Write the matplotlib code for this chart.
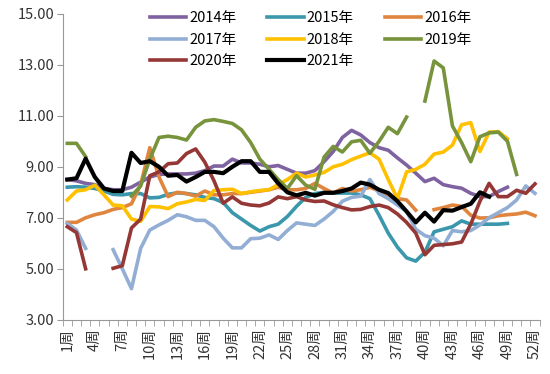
import numpy as np
import matplotlib.pyplot as plt

plt.rcParams['font.family'] = ['Noto Sans CJK SC', 'DejaVu Sans']

weeks = np.arange(1, 53)
N = None

y2014 = [8.5, 8.45, 8.35, 8.3, 8.15, 8.1, 8.1, 8.2, 8.4, 8.6, 8.7, 8.72, 8.72, 8.72, 8.75, 8.85,
         9.03, 9.03, 9.3, 9.15, 9.15, 9.1, 9.0, 9.05, 8.9, 8.75, 8.75, 8.85, 9.2, 9.6, 10.15, 10.43,
         10.25, 9.95, 9.75, 9.65, 9.35, 9.07, 8.75, 8.42, 8.55, 8.3, 8.22, 8.16, 7.96, 7.83, 7.83,
         8.03, 8.2, N, N, N]
y2015 = [8.2, 8.22, 8.2, 8.15, 8.05, 7.92, 7.9, 7.95, 7.95, 7.78, 7.8, 7.92, 7.98, 7.95, 7.9, 7.8,
         7.75, 7.6, 7.2, 6.95, 6.7, 6.48, 6.65, 6.75, 7.05, 7.45, 7.8, 7.95, 8.0, 7.97, 7.97, 7.97,
         7.9, 7.75, 7.1, 6.4, 5.85, 5.43, 5.3, 5.65, 6.45, 6.55, 6.65, 6.88, 6.75, 6.75, 6.75, 6.75,
         6.78, N, N, N]
y2016 = [6.82, 6.82, 7.0, 7.12, 7.2, 7.33, 7.4, 7.55, 8.3, 9.75, 8.6, 7.83, 8.0, 7.95, 7.85, 8.05,
         7.9, 7.9, 7.95, 7.95, 8.0, 8.05, 8.1, 8.2, 8.1, 8.1, 8.15, 8.35, 8.15, 7.97, 8.15, 8.05,
         8.1, 8.2, 8.05, 7.85, 7.75, 7.7, 7.3, N, 7.32, 7.4, 7.5, 7.45, 7.1, 6.99, 7.0, 7.08,
         7.12, 7.15, 7.22, 7.08]
y2017 = [6.78, 6.52, 5.8, N, N, 5.75, 5.0, 4.22, 5.8, 6.52, 6.72, 6.9, 7.12, 7.04, 6.9, 6.9,
         6.65, 6.2, 5.82, 5.82, 6.18, 6.2, 6.33, 6.15, 6.5, 6.8, 6.75, 6.7, 6.95, 7.25, 7.65, 7.8,
         7.85, 8.5, 7.95, 7.75, 7.5, 7.25, 6.55, 6.3, 6.2, 5.9, 6.5, 6.45, 6.5, 6.72, 7.0, 7.2,
         7.4, 7.7, 8.25, 7.96]
y2018 = [7.7, 8.05, 8.1, 8.28, 7.9, 7.5, 7.47, 6.95, 6.86, 7.44, 7.43, 7.36, 7.55, 7.62, 7.72, 7.68,
         8.07, 8.1, 8.12, 7.95, 8.02, 8.07, 8.1, 8.3, 8.5, 8.75, 8.6, 8.68, 8.78, 9.0, 9.1, 9.28,
         9.42, 9.55, 9.3, 8.5, 7.75, 8.8, 8.9, 9.1, 9.5, 9.58, 9.85, 10.65, 10.73, 9.6, 10.36, 10.38,
         10.1, N, N, N]
y2019 = [9.92, 9.92, 9.4, N, N, N, N, 7.85, 8.25, 9.3, 10.15, 10.2, 10.15, 10.05, 10.55, 10.8,
         10.85, 10.78, 10.7, 10.45, 9.95, 9.3, 8.9, 8.5, 8.15, 8.65, 8.28, 8.12, 9.38, 9.8, 9.58, 9.98,
         10.04, 9.53, 10.0, 10.55, 10.3, 10.95, N, 11.58, 13.15, 12.88, 10.6, 9.95, 9.2, 10.18, 10.33, 10.36,
         10.0, 8.7, N, N]
y2020 = [6.65, 6.42, 5.0, N, N, 5.02, 5.12, 6.6, 6.95, 8.65, 8.8, 9.12, 9.15, 9.52, 9.7, 9.18,
         8.45, 7.57, 7.82, 7.57, 7.5, 7.47, 7.58, 7.82, 7.75, 7.83, 7.7, 7.64, 7.66, 7.51, 7.4, 7.31,
         7.33, 7.44, 7.5, 7.4, 7.15, 6.82, 6.4, 5.55, 5.92, 5.95, 5.98, 6.05, 6.75, 7.65, 8.35, 7.83,
         7.83, 8.08, 7.96, 8.33]
y2021 = [8.5, 8.55, 9.32, 8.6, 8.15, 8.05, 8.05, 9.55, 9.15, 9.22, 9.0, 8.65, 8.68, 8.42, 8.6, 8.8,
         8.8, 8.75, 9.0, 9.22, 9.22, 8.8, 8.8, 8.35, 8.0, 7.88, 7.98, 7.87, 7.98, 7.98, 8.05, 8.15,
         8.38, 8.3, 8.1, 7.97, 7.65, 7.25, 6.82, 7.2, 6.85, 7.3, 7.28, 7.42, 7.55, 8.0, 7.83, N,
         N, N, N, N]

series = [
    ('2014年', y2014, '#7F63A1'),
    ('2015年', y2015, '#3A97AC'),
    ('2016年', y2016, '#E0853E'),
    ('2017年', y2017, '#93AED4'),
    ('2018年', y2018, '#FFC000'),
    ('2019年', y2019, '#77933C'),
    ('2020年', y2020, '#953735'),
    ('2021年', y2021, '#000000'),
]

fig = plt.figure(figsize=(5.5, 3.74), dpi=100)
ax = fig.add_axes([0.114, 0.145, 0.867, 0.818])

lines = []
for name, vals, col in series:
    v = np.array([np.nan if x is None else x for x in vals], dtype=float)
    lw = 3.0 if name == '2021年' else 2.6
    ln, = ax.plot(weeks, v, color=col, lw=lw, label=name, solid_joinstyle='round')
    lines.append(ln)

ax.set_xlim(0.5, 52.5)
ax.set_ylim(3, 15)
ax.set_yticks(np.arange(3, 16, 2))
ax.set_yticklabels(['%.2f' % t for t in np.arange(3, 16, 2)], fontsize=10.5, color='#333333')

lab_weeks = np.arange(1, 53, 3)
ax.set_xticks(lab_weeks)
ax.set_xticklabels(['%d周' % w for w in lab_weeks], rotation=90, fontsize=10.5, color='#333333')
ax.set_xticks(np.arange(0.5, 53, 1), minor=True)
ax.tick_params(axis='x', which='major', length=0, pad=6)
ax.tick_params(axis='x', which='minor', length=4, color='#999999', direction='out')
ax.tick_params(axis='y', length=4, color='#999999', direction='out', pad=2)

for s in ['top', 'right']:
    ax.spines[s].set_visible(False)
ax.spines['left'].set_color('#999999')
ax.spines['bottom'].set_color('#999999')

# legend fills column by column, so reorder to read row by row
order = [0, 3, 6, 1, 4, 7, 2, 5]
ax.legend([lines[i] for i in order], [series[i][0] for i in order],
          ncol=3, loc='upper left', bbox_to_anchor=(0.183, 1.008), frameon=False,
          fontsize=10.5, handlelength=2.5, handletextpad=0.2, columnspacing=2.1,
          labelspacing=0.5, borderaxespad=0, borderpad=0)

fig.savefig('out.png', dpi=100)
